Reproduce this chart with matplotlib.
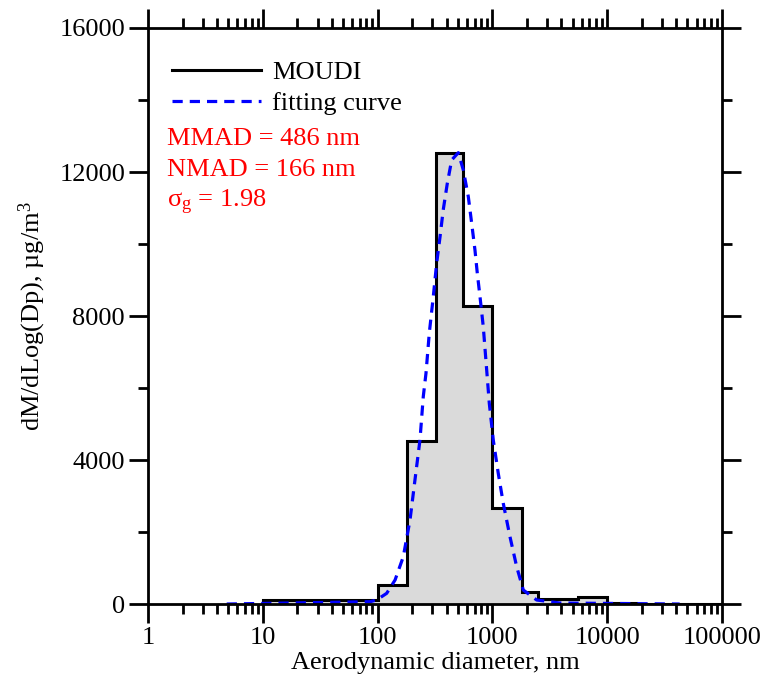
import numpy as np
import matplotlib
matplotlib.use('Agg')
import matplotlib.pyplot as plt
from matplotlib.ticker import FixedLocator, MultipleLocator, LogLocator, FuncFormatter, NullFormatter

plt.rcParams['font.family'] = ['Liberation Serif', 'DejaVu Serif']
plt.rcParams['mathtext.fontset'] = 'custom'
plt.rcParams['mathtext.rm'] = 'Liberation Serif'
plt.rcParams['mathtext.it'] = 'Liberation Serif:italic'

# MOUDI stage edges (nm) and dM/dlogDp values
edges = [10, 100, 180, 320, 560, 1000, 1800, 2500, 5600, 10000, 18000, 100000]
moudi = [120, 530, 4540, 12530, 8280, 2670, 340, 130, 200, 40, 10]

# fitting curve
fit_dp = [4.85, 86, 98, 120, 142, 167.5, 191.6, 211.6, 234, 250, 264, 282, 305.6,
          327, 350, 373, 405, 442, 505, 558, 617, 660, 705, 739, 780, 833, 892,
          940, 1018, 1125, 1244, 1423, 1628, 1859, 2432, 3880, 42800]
fit_val = [0, 64, 111, 297, 667, 1314, 2333, 3445, 4556, 5759, 6409, 7520, 8537,
           9465, 10204, 10945, 11687, 12334, 12537, 12057, 11315, 10576, 9834,
           9187, 8537, 7703, 6500, 5575, 4556, 3631, 2797, 1870, 1036, 389, 111,
           28, 0]

labels = ['MMAD = 486 nm', 'NMAD = 166 nm', r'$\mathrm{\sigma_g}$ = 1.98']

fs = 19
fig = plt.figure(figsize=(7.64, 6.93), dpi=100)
ax = fig.add_axes([0.1937, 0.1284, 0.7513, 0.8312])

ax.stairs(moudi, edges, baseline=0, fill=True, color='#dadada', lw=0)
ax.stairs(moudi, edges, baseline=0, fill=False, color='k', lw=2.2, label='MOUDI')
ax.plot(fit_dp, fit_val, color='#0000ff', lw=2.3, ls=(0, (3.2, 2.2)), label='fitting curve')

ax.set_xscale('log')
ax.set_xlim(1, 100000)
ax.set_ylim(0, 16000)
ax.xaxis.set_major_locator(FixedLocator([1, 10, 100, 1000, 10000, 100000]))
ax.xaxis.set_minor_locator(LogLocator(base=10, subs=np.arange(2, 10)))
ax.xaxis.set_major_formatter(FuncFormatter(lambda v, p: '%d' % round(v)))
ax.xaxis.set_minor_formatter(NullFormatter())
ax.yaxis.set_major_locator(MultipleLocator(4000))
ax.yaxis.set_minor_locator(MultipleLocator(2000))

ax.tick_params(which='both', direction='out', top=True, right=True, width=2, labelsize=fs)
ax.tick_params(which='major', length=13.5, pad=3)
ax.tick_params(which='minor', length=7)
for s in ax.spines.values():
    s.set_linewidth(2)

ax.set_xlabel('Aerodynamic diameter, nm', fontsize=fs, labelpad=2)
ax.set_ylabel(r'dM/dLog(Dp), µg/m$^3$', fontsize=fs, labelpad=8)

ax.legend(loc='upper left', bbox_to_anchor=(0.0, 0.985), frameon=False, fontsize=fs,
          handlelength=3.4, handletextpad=0.4, labelspacing=0.3, borderaxespad=0.5)

for i, t in enumerate(labels):
    ax.text(0.033, 0.808 - i * 0.055, t, transform=ax.transAxes, color='#ff0000',
            fontsize=fs, va='center', ha='left')

fig.savefig('out.png', dpi=100)
